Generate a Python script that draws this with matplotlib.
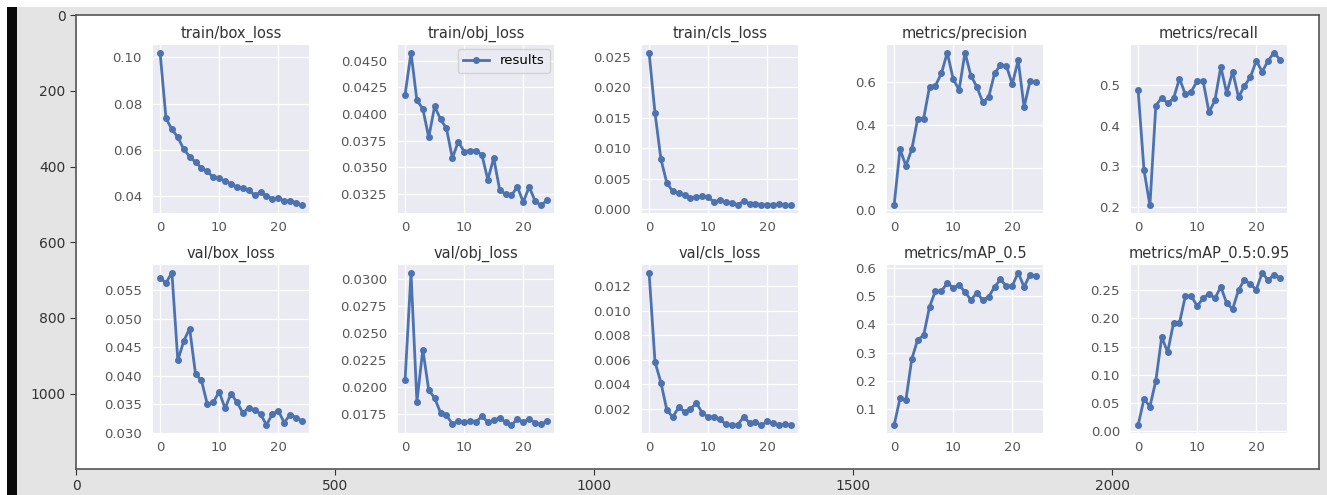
import numpy as np
import matplotlib
matplotlib.use("Agg")
import matplotlib.pyplot as plt
from matplotlib.patches import Rectangle
from matplotlib.ticker import FormatStrFormatter

# YOLOv5 results, 25 epochs
epochs = np.arange(25)

titles = ["train/box_loss", "train/obj_loss", "train/cls_loss",
          "metrics/precision", "metrics/recall",
          "val/box_loss", "val/obj_loss", "val/cls_loss",
          "metrics/mAP_0.5", "metrics/mAP_0.5:0.95"]

train_box = [0.1021, 0.0736, 0.0689, 0.0655, 0.0603, 0.0571, 0.0547, 0.0522, 0.0507,
             0.0481, 0.0479, 0.0464, 0.0454, 0.0439, 0.0436, 0.0426, 0.0404, 0.0417,
             0.0400, 0.0389, 0.0393, 0.0379, 0.0380, 0.0372, 0.0360]
train_obj = [0.04181, 0.04577, 0.04128, 0.04050, 0.03780, 0.04072, 0.03951, 0.03864,
             0.03585, 0.03740, 0.03647, 0.03656, 0.03656, 0.03616, 0.03383, 0.03585,
             0.03290, 0.03244, 0.03235, 0.03315, 0.03172, 0.03315, 0.03182, 0.03141,
             0.03188]
train_cls = [0.0257, 0.0158, 0.0082, 0.0043, 0.0029, 0.0026, 0.0023, 0.0018, 0.0020,
             0.0021, 0.0019, 0.0012, 0.0014, 0.0012, 0.0010, 0.0007, 0.0013, 0.0009,
             0.0009, 0.0007, 0.0007, 0.0007, 0.0008, 0.0006, 0.0006]
precision = [0.022, 0.286, 0.208, 0.286, 0.430, 0.430, 0.580, 0.585, 0.642, 0.740,
             0.616, 0.565, 0.740, 0.631, 0.580, 0.507, 0.530, 0.642, 0.682, 0.678,
             0.592, 0.704, 0.484, 0.605, 0.600]
recall = [0.488, 0.290, 0.203, 0.449, 0.469, 0.455, 0.467, 0.516, 0.477, 0.484, 0.510,
          0.510, 0.433, 0.462, 0.545, 0.480, 0.533, 0.470, 0.498, 0.519, 0.560, 0.533,
          0.560, 0.580, 0.563]
val_box = [0.0572, 0.0563, 0.0581, 0.0427, 0.0461, 0.0483, 0.0403, 0.0392, 0.0350,
           0.0354, 0.0372, 0.0343, 0.0369, 0.0354, 0.0335, 0.0344, 0.0341, 0.0333,
           0.0314, 0.0333, 0.0339, 0.0318, 0.0332, 0.0327, 0.0321]
val_obj = [0.02066, 0.03061, 0.01863, 0.02347, 0.01971, 0.01897, 0.01760, 0.01735,
           0.01658, 0.01680, 0.01673, 0.01683, 0.01673, 0.01729, 0.01673, 0.01689,
           0.01713, 0.01673, 0.01643, 0.01704, 0.01673, 0.01704, 0.01667, 0.01652,
           0.01683]
val_cls = [0.0131, 0.00582, 0.00415, 0.00192, 0.00133, 0.00213, 0.00178, 0.00200,
           0.00248, 0.00168, 0.00133, 0.00138, 0.00114, 0.00074, 0.00066, 0.00071,
           0.00133, 0.00087, 0.00093, 0.00066, 0.00098, 0.00084, 0.00071, 0.00074,
           0.00066]
map50 = [0.0415, 0.1375, 0.1316, 0.278, 0.346, 0.361, 0.463, 0.519, 0.518, 0.547,
         0.531, 0.539, 0.516, 0.486, 0.513, 0.486, 0.498, 0.533, 0.560, 0.536, 0.537,
         0.584, 0.533, 0.577, 0.571]
map50_95 = [0.0105, 0.0573, 0.0438, 0.0894, 0.167, 0.140, 0.192, 0.192, 0.2395, 0.2395,
            0.222, 0.2354, 0.244, 0.2354, 0.256, 0.2266, 0.2167, 0.250, 0.2687, 0.2605,
            0.251, 0.281, 0.2675, 0.2775, 0.272]

series = [train_box, train_obj, train_cls, precision, recall,
          val_box, val_obj, val_cls, map50, map50_95]

# y tick values as printed in each panel
yticks = [
    [0.04, 0.06, 0.08, 0.10],
    [0.0325, 0.0350, 0.0375, 0.0400, 0.0425, 0.0450],
    [0.000, 0.005, 0.010, 0.015, 0.020, 0.025],
    [0.0, 0.2, 0.4, 0.6],
    [0.2, 0.3, 0.4, 0.5],
    [0.030, 0.035, 0.040, 0.045, 0.050, 0.055],
    [0.0175, 0.0200, 0.0225, 0.0250, 0.0275, 0.0300],
    [0.002, 0.004, 0.006, 0.008, 0.010, 0.012],
    [0.1, 0.2, 0.3, 0.4, 0.5, 0.6],
    [0.00, 0.05, 0.10, 0.15, 0.20, 0.25],
]
ytick_fmt = ["%.2f", "%.4f", "%.3f", "%.1f", "%.1f",
             "%.3f", "%.4f", "%.3f", "%.1f", "%.2f"]
xticks = [0, 10, 20]

outer_xticks = [0, 500, 1000, 1500, 2000]
outer_yticks = [0, 200, 400, 600, 800, 1000]

W, H = 1327, 495
fig = plt.figure(figsize=(W / 100, H / 100), dpi=100, facecolor="white")

# screenshot background: gray panel and black bar at the left
fig.patches.append(Rectangle((17 / W, 0), 1, 1 - 7 / H, transform=fig.transFigure,
                             facecolor="#e4e4e4", edgecolor="none", zorder=-2))
fig.patches.append(Rectangle((7 / W, 0), 10 / W, 1 - 7 / H, transform=fig.transFigure,
                             facecolor="#0a0a0a", edgecolor="none", zorder=-1))

# outer axes (image shown in pixel coordinates)
outer = fig.add_axes([76 / W, 1 - 469 / H, (1319 - 76) / W, (469 - 15) / H])
outer.set_facecolor("white")
outer.set_xlim(-0.5, 2399.5)
outer.set_ylim(1199.5, -0.5)
outer.set_xticks(outer_xticks)
outer.set_yticks(outer_yticks)
outer.tick_params(labelsize=10, colors="#333333", length=4)
for sp in outer.spines.values():
    sp.set_color("#555555")
    sp.set_linewidth(1.2)

col_left = [153, 398, 642, 887, 1131]
row_top = [45, 265]
aw, ah = 156, 168

for i, (title, y) in enumerate(zip(titles, series)):
    r, c = divmod(i, 5)
    x0 = col_left[c]
    y0 = row_top[r]
    ax = fig.add_axes([x0 / W, 1 - (y0 + ah) / H, aw / W, ah / H], zorder=3)
    ax.set_facecolor("#EAEAF2")
    ax.grid(True, color="white", linewidth=0.9)
    ax.set_axisbelow(True)
    for sp in ax.spines.values():
        sp.set_visible(False)
    ax.plot(epochs, y, marker=".", color="#4C72B0", linewidth=2, markersize=8,
            label="results")
    lo, hi = ax.get_ylim()
    ax.set_xticks(xticks)
    ax.set_yticks(yticks[i])
    ax.set_ylim(min(lo, yticks[i][0] - 0.0005 * (hi - lo)), hi)
    ax.yaxis.set_major_formatter(FormatStrFormatter(ytick_fmt[i]))
    ax.tick_params(axis="both", length=0, labelsize=9.5, colors="#555555")
    ax.tick_params(axis="y", pad=8)
    ax.tick_params(axis="x", pad=6)
    ax.set_title(title, fontsize=10.5, color="#333333", pad=5)
    if i == 1:
        leg = ax.legend(loc="upper right", fontsize=9.5, frameon=True,
                        borderaxespad=0.3)
        leg.get_frame().set_facecolor("#EAEAF2")
        leg.get_frame().set_edgecolor("#cccccc")

fig.savefig("out.png", dpi=100, facecolor=fig.get_facecolor())
